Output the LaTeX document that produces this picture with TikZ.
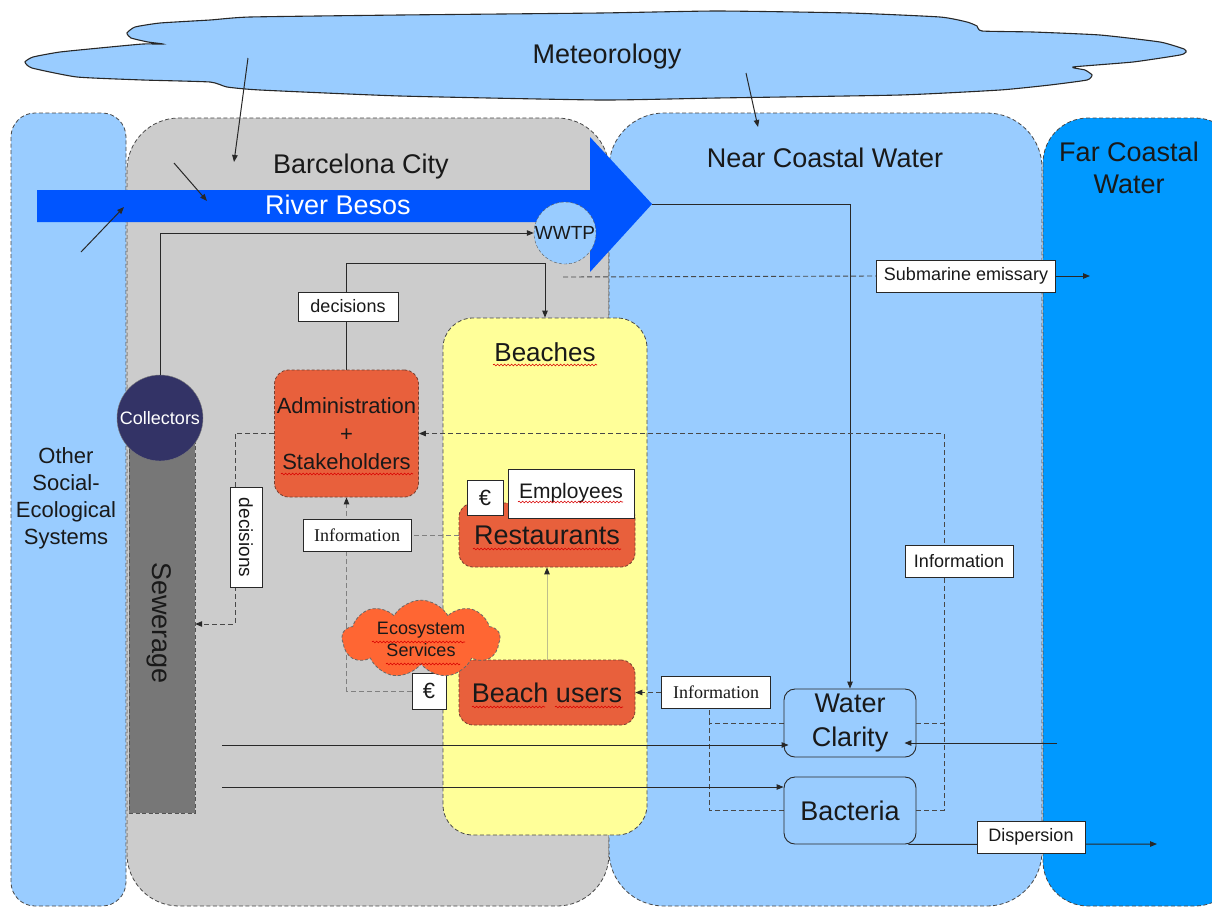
\documentclass[tikz,border=0pt]{standalone}
\usepackage{fontspec}
\setmainfont{Liberation Sans}
\newfontfamily\serifinfo{Liberation Serif}
\usetikzlibrary{arrows.meta,shapes.symbols,shapes.geometric,decorations.pathmorphing}
\pgfdeclarelayer{bg}
\pgfdeclarelayer{lines}
\pgfsetlayers{bg,lines,main}
\definecolor{lblue}{RGB}{153,204,255}
\definecolor{fblue}{RGB}{0,153,255}
\definecolor{rblue}{RGB}{0,85,255}
\definecolor{cgray}{RGB}{204,204,204}
\definecolor{sgray}{RGB}{119,119,119}
\definecolor{navy}{RGB}{51,51,102}
\definecolor{byellow}{RGB}{255,255,153}
\definecolor{orng}{RGB}{232,96,60}
\definecolor{ecoorng}{RGB}{255,102,51}
\definecolor{txt}{RGB}{25,25,25}
\definecolor{ln}{RGB}{40,40,40}
\definecolor{pale}{RGB}{190,190,140}
\newcommand\fsA{\fontsize{27}{32}\selectfont}
\newcommand\fsC{\fontsize{18}{22}\selectfont}
\begin{document}
\begin{tikzpicture}[x=1pt,y=-1pt,
  region/.style={draw=ln!85, line width=0.8pt, dash pattern=on 4pt off 2.5pt},
  tip/.style={-{Triangle[length=7pt,width=5.5pt,color=ln]}},
  arr/.style={draw=ln, line width=1pt, tip},
  dline/.style={draw=ln!85, line width=0.9pt, dash pattern=on 5pt off 3pt},
  tag/.style={draw=ln, fill=white, line width=0.9pt, inner sep=0pt, minimum height=32pt, text=txt, font=\fsC},
  stag/.style={tag, font=\serifinfo\fsC},
  obox/.style={draw=ln!60!orng, fill=orng, rounded corners=14pt, line width=0.8pt, dash pattern=on 3pt off 2pt, inner sep=0pt, text=txt},
  wqbox/.style={draw=ln, fill=lblue, rounded corners=11pt, line width=0.9pt, inner sep=0pt, text=txt, font=\fontsize{27}{34}\selectfont, align=center},
  lbl/.style={text=txt, inner sep=0pt, align=center},
  squig/.style={draw=red!85!black, line width=0.6pt, decorate, decoration={snake, amplitude=0.9pt, segment length=3.5pt}}
]
\useasboundingbox (0,0) rectangle (1212,906);
\clip (0,0) rectangle (1212,906);

\begin{pgfonlayer}{bg}
% meteorology cloud
\draw[fill=lblue, draw=ln, line width=1.1pt] plot[smooth cycle, tension=0.3] coordinates {
 (25,62) (33,57) (60,52) (110,47) (143,44) (163,44) (148,42) (131,38) (127,33) (135,27)
 (160,23) (210,20) (250,17) (400,15) (600,13) (717,11) (850,13) (940,17) (967,22) (977,26)
 (982,31) (1033,32) (1100,35) (1160,42) (1184,49) (1186,52) (1180,55) (1133,62) (1073,67)
 (1085,70) (1092,75) (1087,80) (1050,85) (1000,90) (900,95) (717,98) (600,100) (400,96)
 (260,90) (227,87) (210,82) (143,80) (77,77) (32,68)};
% regions
\draw[region, fill=lblue, rounded corners=24pt] (11,113) rectangle (126,906);
\draw[region, fill=cgray, rounded corners=52pt] (127,118) rectangle (609,906);
\draw[region, fill=lblue, rounded corners=55pt] (609,113) rectangle (1042,906);
\draw[region, fill=fblue, rounded corners=45pt] (1043,118) rectangle (1240,906);
% river
\fill[rblue] (37,190) -- (590,190) -- (590,137) -- (652,204) -- (590,272) -- (590,222) -- (37,222) -- cycle;
\coordinate (rtip) at (652,204);
\node[circle, draw=ln!80, dash pattern=on 3pt off 2pt, fill=lblue, minimum size=62pt, inner sep=0pt,
  font=\fontsize{19}{22}\selectfont, text=txt] (wwtp) at (565,233) {WWTP};
\node[draw=ln!80, dash pattern=on 4pt off 2.5pt, fill=sgray, minimum width=66pt, minimum height=373pt, inner sep=0pt] (sewer) at (162,626.5) {};
\node[circle, draw=ln!60, fill=navy, minimum size=86pt, inner sep=0pt, text=white,
  font=\fontsize{18}{22}\selectfont] (coll) at (160,418) {Collectors};
\node[region, fill=byellow, rounded corners=30pt, minimum width=204pt, minimum height=517pt, inner sep=0pt] (beach) at (545,576.5) {};
\end{pgfonlayer}

% text labels
\node[lbl, font=\fsA] (meteo) at (607,57) {Meteorology};
\node[lbl, font=\fsA] (bcn) at (361,167) {Barcelona City};
\node[lbl, font=\fsA, text=white] (river) at (338,205) {River Besos};
\node[lbl, font=\fsA] (near) at (825,158) {Near Coastal Water};
\node[lbl, font=\fsA] (far) at (1129,168) {Far Coastal\\Water};
\node[lbl, font=\fontsize{22}{27}\selectfont] (other) at (66,498) {Other\\Social-\\Ecological\\Systems};
\node[lbl, rotate=-90, font=\fsA] (sewtxt) at (159,623) {Sewerage};
\node[lbl, font=\fontsize{26}{30}\selectfont] (beachtxt) at (545,352) {Beaches};

% boxes
\node[obox, minimum width=144pt, minimum height=127pt, align=center, font=\fontsize{22}{28}\selectfont] (admin) at (346.5,433.5) {Administration\\+\\Stakeholders};
\node[obox, minimum width=176pt, minimum height=64pt, font=\fsA] (rest) at (547,535) {Restaurants};
\node[obox, minimum width=176pt, minimum height=65pt, font=\fsA] (users) at (547,692.5) {Beach users};
\node[tag, minimum width=36pt, minimum height=35pt, font=\fontsize{22}{26}\selectfont] (eur1) at (485,497.5) {€};
\node[tag, minimum width=126pt, minimum height=49pt, font=\fontsize{21}{25}\selectfont] (empl) at (571,493.5) {Employees};
\node[tag, minimum width=34pt, minimum height=36pt, font=\fontsize{22}{26}\selectfont] (eur2) at (429,691) {€};
\node[cloud, cloud puffs=9, cloud puff arc=120, aspect=2.2, draw=ln!70, dash pattern=on 3pt off 2pt, line width=0.8pt,
  fill=ecoorng, minimum width=158pt, minimum height=70pt, inner sep=0pt, align=center,
  font=\fontsize{18}{22}\selectfont, text=txt] (eco) at (421,639) {Ecosystem\\Services};
\node[stag, minimum width=108pt] (info1) at (357,535) {Information};
\node[stag, minimum width=109pt] (info2) at (716,692.5) {Information};
\node[tag, minimum width=108pt] (info3) at (959,561) {Information};
\node[tag, minimum width=100pt, minimum height=29pt] (dec1) at (348,306.5) {decisions};
\node[tag, rotate=-90, minimum width=100pt, minimum height=32pt, font=\fontsize{19}{22}\selectfont] (dec2) at (246,537.5) {decisions};
\node[tag, minimum width=179pt] (sub) at (966,276) {Submarine emissary};
\node[tag, minimum width=108pt] (disp) at (1031,837) {Dispersion};
\node[wqbox, minimum width=132pt, minimum height=68pt] (wc) at (850,723) {Water\\Clarity};
\node[wqbox, minimum width=132pt, minimum height=67pt] (bac) at (850,810.5) {Bacteria};

% coordinates for free ends
\coordinate (m1a) at (248,58);  \coordinate (m1b) at (234,162);
\coordinate (m2a) at (746,73);  \coordinate (m2b) at (758,127);
\coordinate (m3a) at (174,163); \coordinate (m3b) at (207,201);
\coordinate (m4a) at (81,252);  \coordinate (m4b) at (124,207);
\coordinate (wout) at (563,277);
\coordinate (subend) at (1090,276);
\coordinate (j1) at (709,723);
\coordinate (j2) at (709,810.5);
\coordinate (c1) at (222,745);
\coordinate (c2) at (222,787);
\coordinate (c3) at (1057,743);
\coordinate (dend) at (1157,844);

\begin{pgfonlayer}{lines}
\draw[arr] (m1a) -- (m1b);
\draw[arr] (m2a) -- (m2b);
\draw[arr] (m3a) -- (m3b);
\draw[arr] (m4a) -- (m4b);
\draw[arr] (coll.north) |- (wwtp.west);
\draw[arr] (admin.north) -- (admin.north |- 0,263) -| (beach.north);
\draw[arr] (rtip) -| (wc.north);
\draw[dline] (wout) -- (sub.west);
\draw[arr] (sub.east) -- (subend);
\draw[dline, tip] (admin.west) -- (235,433.5) -- (235,624) -- (sewer.east |- 0,624);
\draw[dline, tip] (wc.east) -- (944,723) -- (944,433.5) -- (admin.east);
\draw[dline] (bac.east) -- (944,810.5) -- (944,723);
\draw[dline, tip] (info2.west) -- (users.east);
\draw[dline] (wc.west) -- (j1) -- (j2) -- (bac.west);
\draw[dline] (j1) -- (j1 |- info2.south);
\draw[draw=pale, line width=1pt, tip] (users.north) -- (rest.south);
\draw[dline, draw=gray] (rest.west) -- (info1.east);
\draw[dline, draw=gray, tip] (eur2.west) -| (admin.south);
\draw[arr] (c2) -- (c2 -| bac.west);
\draw[arr] ([xshift=-8pt]bac.south east) -- (dend);
\end{pgfonlayer}
\draw[arr] (c1) -- ([xshift=5pt]c1 -| wc.west);
\draw[arr] (c3) -- ([xshift=-12pt]c3 -| wc.east);

% spell-check squiggles
\draw[squig] (493,365) -- (597,365);
\draw[squig] (281,474) -- (413,474);
\draw[squig] (518,502) -- (623,502);
\draw[squig] (473,549) -- (621,549);
\draw[squig] (372,642) -- (465,642);
\draw[squig] (386,664) -- (460,664);
\draw[squig] (472,707) -- (545,707);
\draw[squig] (555,707) -- (623,707);
\end{tikzpicture}
\end{document}
